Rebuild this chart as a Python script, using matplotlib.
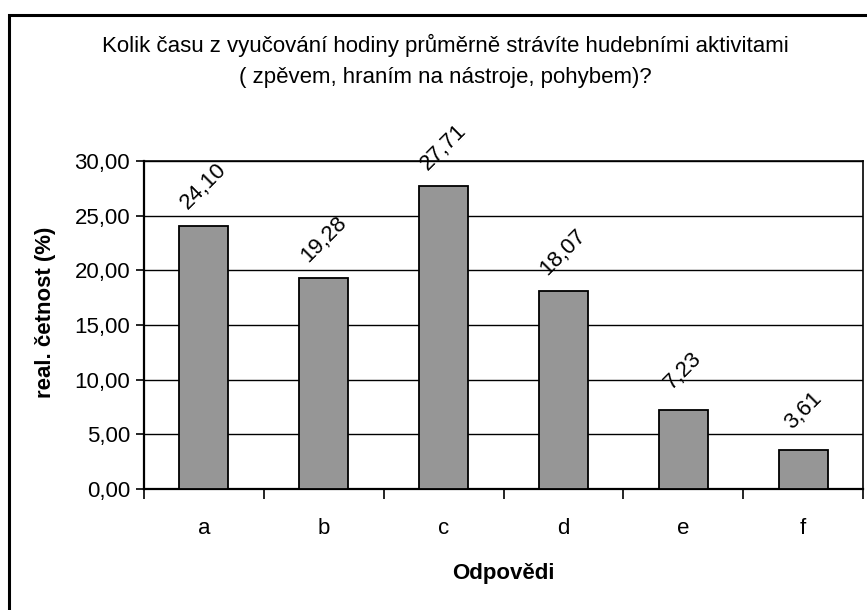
import matplotlib
matplotlib.use("Agg")
import matplotlib.pyplot as plt
from matplotlib.patches import Rectangle
import numpy as np

# data
categories = ["a", "b", "c", "d", "e", "f"]
values = [24.10, 19.28, 27.71, 18.07, 7.23, 3.61]
yticks = [0, 5, 10, 15, 20, 25, 30]

plt.rcParams['font.family'] = ['Liberation Sans', 'DejaVu Sans']

W, H = 867, 610
fig = plt.figure(figsize=(W / 100, H / 100), dpi=100)
ax = fig.add_axes([144 / W, 1 - 489 / H, (863 - 144) / W, (489 - 161) / H])

x = np.arange(len(categories))
ax.bar(x, values, width=0.41, color="#969696", edgecolor="black", linewidth=1.3, zorder=3)

ax.set_xlim(-0.5, len(categories) - 0.5)
ax.set_ylim(0, 30)
ax.set_yticks(yticks)
ax.set_yticklabels([f"{v:.2f}".replace(".", ",") for v in yticks], fontsize=16)
ax.grid(axis="y", color="black", linewidth=1.0, zorder=0)
ax.tick_params(axis="y", direction="out", length=6, width=1.2, pad=4)

# kategorie uprostřed, čárky na hranicích
ax.set_xticks(x)
ax.set_xticklabels(categories, fontsize=16)
ax.tick_params(axis="x", which="major", length=0, pad=21)
ax.set_xticks(np.arange(len(categories) + 1) - 0.5, minor=True)
ax.tick_params(axis="x", which="minor", direction="out", length=7, width=1.2)

for s in ax.spines.values():
    s.set_color("black")
    s.set_linewidth(1.2)
ax.spines["left"].set_linewidth(1.6)
ax.spines["bottom"].set_linewidth(1.6)

# popisky hodnot
for xi, v in zip(x, values):
    ax.annotate(f"{v:.2f}".replace(".", ","), (xi, v), xytext=(0, 28),
                textcoords="offset points", ha="center", va="center",
                rotation=45, rotation_mode="anchor", fontsize=16, zorder=4)

fig.text(445 / W, 1 - 45 / H,
         "Kolik času z vyučování hodiny průměrně strávíte hudebními aktivitami",
         ha="center", va="center", fontsize=16)
fig.text(445 / W, 1 - 78 / H, "( zpěvem, hraním na nástroje, pohybem)?",
         ha="center", va="center", fontsize=16)

fig.text(503 / W, 1 - 573 / H, "Odpovědi", ha="center", va="center",
         fontsize=16, fontweight="bold")
fig.text(46 / W, 1 - 312 / H, "real. četnost (%)", ha="center", va="center",
         rotation=90, fontsize=16, fontweight="bold")

# rámeček grafu
fig.patches.append(Rectangle((9 / W, -0.05), 1.0, 1 - 15 / H + 0.05,
                             transform=fig.transFigure, fill=False,
                             edgecolor="black", linewidth=2.2))

fig.savefig("out.png", dpi=100)
